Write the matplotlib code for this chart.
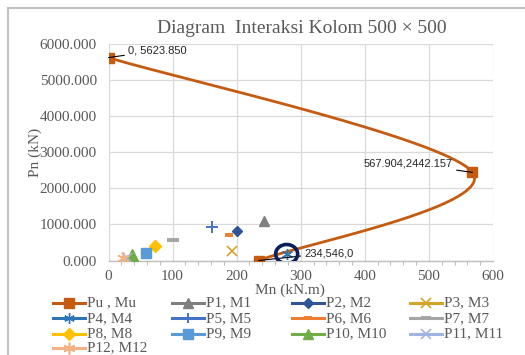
import numpy as np
import matplotlib
matplotlib.use("Agg")
import matplotlib.pyplot as plt
from matplotlib.lines import Line2D
from matplotlib.patches import Ellipse
from matplotlib.ticker import MultipleLocator, FormatStrFormatter

# ---- data -------------------------------------------------------------
# interaction curve (three key points: pure axial, balanced, pure bending)
curve_mn = [0.0, 567.904, 234.546]
curve_pn = [5623.850, 2442.157, 0.0]
curve_labels = ["0, 5623.850", "567.904,2442.157", "234,546,0"]

# load combinations (Mn, Pn)
load_names = ["P1, M1", "P2, M2", "P3, M3", "P4, M4", "P5, M5", "P6, M6",
              "P7, M7", "P8, M8", "P9, M9", "P10, M10", "P11, M11", "P12, M12"]
load_mn = [242, 201, 193, 278, 162, 188, 100, 72, 58, 36, 29, 22]
load_pn = [1100, 810, 270, 180, 920, 700, 565, 400, 195, 160, 60, 60]

x_ticks = [0, 100, 200, 300, 400, 500, 600]
y_ticks = [0, 1000, 2000, 3000, 4000, 5000, 6000]

# ---- styles -----------------------------------------------------------
TXT = "#595959"
GRID = "#d9d9d9"
SERIF = "Liberation Serif"
load_styles = [
    dict(color="#7f7f7f", marker="^", ms=7.5),
    dict(color="#2f5597", marker="D", ms=5.5),
    dict(color="#d4a32a", marker="x", ms=7.5, mew=1.2),
    dict(color="#2e75b6", marker=(6, 2, 0), ms=8, mew=1.0),
    dict(color="#4472c4", marker="+", ms=8, mew=1.4),
    dict(color="#ed7d31", marker="_", ms=6, mew=2.8),
    dict(color="#a5a5a5", marker="_", ms=8, mew=2.8),
    dict(color="#ffc000", marker="D", ms=6),
    dict(color="#5b9bd5", marker="s", ms=7.5),
    dict(color="#70ad47", marker="^", ms=8),
    dict(color="#9fb4e0", marker="x", ms=7.5, mew=1.2),
    dict(color="#f4b183", marker=(6, 2, 0), ms=9, mew=1.2),
]
CURVE_C = "#c55a11"

W, H = 525, 355
fig = plt.figure(figsize=(W / 100, H / 100), dpi=100)


def fx(px):
    return px / W


def fy(py):
    return 1 - py / H


ax_l, ax_r, ax_t, ax_b = 108.5, 493.0, 44.0, 260.5
ax = fig.add_axes([fx(ax_l), fy(ax_b), fx(ax_r - ax_l), (ax_b - ax_t) / H])
ax.set_xlim(0, 600)
ax.set_ylim(0, 6000)

# smoothed curve through the key points (cubic Bezier, computed in screen scale)
sx = (ax_r - ax_l) / 600.0
sy = (ax_b - ax_t) / 6000.0
pts = np.column_stack([np.array(curve_mn) * sx, np.array(curve_pn) * sy])
n = len(pts)
seg = []
t = np.linspace(0, 1, 80)[:, None]
for i in range(n - 1):
    p0 = pts[i - 1] if i > 0 else pts[i]
    p1, p2 = pts[i], pts[i + 1]
    p3 = pts[i + 2] if i + 2 < n else pts[i + 1]
    c1 = p1 + (p2 - p0) / 6.0
    c2 = p2 - (p3 - p1) / 6.0
    b = ((1 - t) ** 3) * p1 + 3 * ((1 - t) ** 2) * t * c1 + 3 * (1 - t) * t ** 2 * c2 + t ** 3 * p2
    seg.append(b if i == 0 else b[1:])
smooth = np.vstack(seg)
ax.plot(smooth[:, 0] / sx, smooth[:, 1] / sy, color=CURVE_C, lw=2.0, zorder=3,
        solid_capstyle="round")
ax.plot(curve_mn, curve_pn, ls="none", marker="s", ms=6.5, color=CURVE_C, zorder=4)

# load points
for mn, pn, st in zip(load_mn, load_pn, load_styles):
    ax.plot([mn], [pn], ls="none", marker=st["marker"], ms=st["ms"],
            color=st["color"], mew=st.get("mew", 1.0), zorder=5)

# data labels with leader lines
offsets = [(20, 7, "left"), (-20, 9, "right"), (46, 7.5, "left")]
for mn, pn, lab, (dx, dy, ha) in zip(curve_mn, curve_pn, curve_labels, offsets):
    ax.annotate(lab, xy=(mn, pn), xytext=(dx, dy), textcoords="offset pixels",
                ha=ha, va="center", fontsize=8, family="Liberation Sans",
                color="#262626", zorder=6,
                arrowprops=dict(arrowstyle="-", color="black", lw=0.8,
                                shrinkA=1, shrinkB=0))

# highlight ring around P4
ring = Ellipse((load_mn[3], load_pn[3]), width=22 / sx, height=19 / sy,
               fill=False, ec="#0b1f5c", lw=2.6, zorder=7)
ax.add_patch(ring)

# axes styling
for s in ax.spines.values():
    s.set_visible(False)
ax.spines["bottom"].set_visible(True)
ax.spines["bottom"].set_color("#bfbfbf")
ax.spines["bottom"].set_linewidth(1.0)
ax.set_xticks(x_ticks)
ax.set_yticks(y_ticks)
ax.xaxis.set_minor_locator(MultipleLocator(20))
ax.yaxis.set_major_formatter(FormatStrFormatter("%.3f"))
ax.grid(True, color=GRID, lw=0.9, zorder=0)
ax.set_axisbelow(True)
ax.tick_params(axis="x", which="major", length=0, pad=7, labelsize=11, labelcolor=TXT)
ax.tick_params(axis="x", which="minor", length=3, width=0.8, color="#bfbfbf", direction="out")
ax.tick_params(axis="y", which="both", length=0, pad=8.5, labelsize=11, labelcolor=TXT)
for lab in ax.get_xticklabels() + ax.get_yticklabels():
    lab.set_family(SERIF)

# titles and axis names
fig.text(fx(302), fy(33), "Diagram  Interaksi Kolom 500 \u00d7 500", ha="center",
         va="baseline", fontsize=14, family=SERIF, color=TXT)
fig.text(fx(290), fy(290), "Mn (kN.m)", ha="center", va="center", fontsize=11,
         family=SERIF, color=TXT)
fig.text(fx(35), fy(152), "Pn (kN)", ha="center", va="center", rotation=90,
         fontsize=11, family=SERIF, color=TXT)

# outer frame
fig.add_artist(Line2D([fx(8), fx(8)], [fy(8), fy(H + 2)], transform=fig.transFigure,
                      color="#c0c0c0", lw=1.5))
fig.add_artist(Line2D([fx(8), fx(W + 2)], [fy(8), fy(8)], transform=fig.transFigure,
                      color="#c0c0c0", lw=1.5))

# legend (row-major, four columns)
names = ["Pu , Mu"] + load_names
styles = [dict(color=CURVE_C, marker="s", ms=7)] + load_styles
col_x = [53, 172, 292, 410]
row_y = [303, 318.3, 333.6, 348]
for k, (name, st) in enumerate(zip(names, styles)):
    r, c = divmod(k, 4)
    x0 = col_x[c]
    y0 = row_y[r]
    fig.add_artist(Line2D([fx(x0), fx(x0 + 16), fx(x0 + 32)], [fy(y0)] * 3,
                          transform=fig.transFigure, color=st["color"], lw=2.2,
                          marker=st["marker"], ms=st["ms"] * 0.95,
                          mew=st.get("mew", 1.0), markevery=[1]))
    fig.text(fx(x0 + 34), fy(y0), name, ha="left", va="center", fontsize=11,
             family=SERIF, color=TXT)

fig.savefig("out.png", dpi=100)
